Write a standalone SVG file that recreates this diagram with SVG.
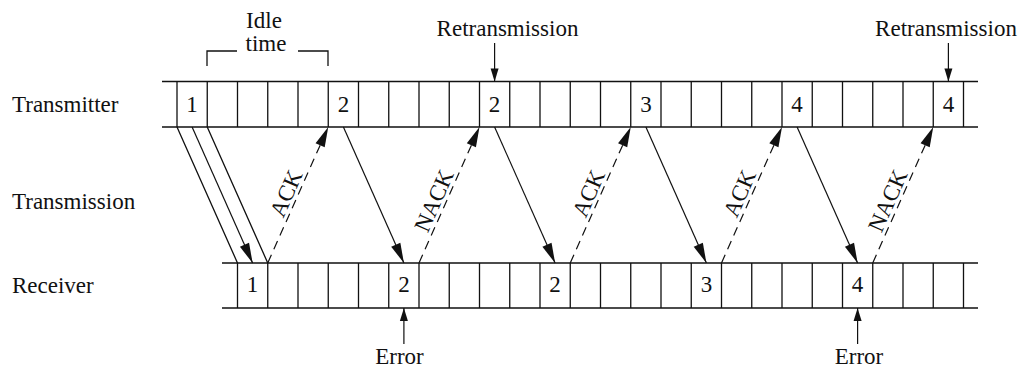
<svg xmlns="http://www.w3.org/2000/svg" width="1024" height="369" viewBox="0 0 1024 369">
<style>
text{font-family:"Liberation Serif","Times New Roman",serif;font-size:23px;fill:#111}
.c{text-anchor:middle}
.ln{stroke:#111;stroke-width:1.3;fill:none}
.sol{stroke:#111;stroke-width:1.2;fill:none;marker-end:url(#big)}
.dsh{stroke:#111;stroke-width:1.2;fill:none;stroke-dasharray:9 6;marker-end:url(#big)}
.pt{stroke:#111;stroke-width:1.2;fill:none;marker-end:url(#small)}
</style>
<defs>
<marker id="big" markerUnits="userSpaceOnUse" markerWidth="22" markerHeight="12" refX="20" refY="5" orient="auto" viewBox="0 0 22 10" overflow="visible">
<path d="M0,0 L20,5 L0,10 z" fill="#111"/>
</marker>
<marker id="small" markerUnits="userSpaceOnUse" markerWidth="14" markerHeight="10" refX="13" refY="4" orient="auto" viewBox="0 0 14 8" overflow="visible">
<path d="M0,0 L13,4 L0,8 z" fill="#111"/>
</marker>
</defs>
<rect width="1024" height="369" fill="#fff"/>

<g id="row-labels">
<text x="12" y="112">Transmitter</text>
<text x="12" y="209">Transmission</text>
<text x="12" y="293">Receiver</text>
</g>

<g id="transmitter">
<path class="ln" d="M162,81.5H978M162,127H978"/>
<path class="ln" d="M177,81.5V127M207.25,81.5V127M237.5,81.5V127M267.75,81.5V127M298,81.5V127M328.25,81.5V127M358.5,81.5V127M388.75,81.5V127M419,81.5V127M449.25,81.5V127M479.5,81.5V127M509.75,81.5V127M540,81.5V127M570.25,81.5V127M600.5,81.5V127M630.75,81.5V127M661,81.5V127M691.25,81.5V127M721.5,81.5V127M751.75,81.5V127M782,81.5V127M812.25,81.5V127M842.5,81.5V127M872.75,81.5V127M903,81.5V127M933.25,81.5V127M963.5,81.5V127"/>
<text class="c" x="192.1" y="112">1</text>
<text class="c" x="343.4" y="112">2</text>
<text class="c" x="494.6" y="112">2</text>
<text class="c" x="645.9" y="112">3</text>
<text class="c" x="797.1" y="112">4</text>
<text class="c" x="948.4" y="112">4</text>
</g>

<g id="receiver">
<path class="ln" d="M222,263H978M222,308H978"/>
<path class="ln" d="M237.5,263V308M267.75,263V308M298,263V308M328.25,263V308M358.5,263V308M388.75,263V308M419,263V308M449.25,263V308M479.5,263V308M509.75,263V308M540,263V308M570.25,263V308M600.5,263V308M630.75,263V308M661,263V308M691.25,263V308M721.5,263V308M751.75,263V308M782,263V308M812.25,263V308M842.5,263V308M872.75,263V308M903,263V308M933.25,263V308M963.5,263V308"/>
<text class="c" x="252.6" y="292">1</text>
<text class="c" x="403.9" y="292">2</text>
<text class="c" x="555.1" y="292">2</text>
<text class="c" x="706.4" y="292">3</text>
<text class="c" x="857.6" y="292">4</text>
</g>

<g id="idle-time">
<text class="c" x="264" y="28">Idle</text>
<text class="c" x="266" y="51">time</text>
<path class="ln" d="M207,66V51H237M298,51H328V66"/>
</g>

<g id="retransmission-1">
<text class="c" x="507.5" y="36">Retransmission</text>
<path class="pt" d="M494.6,43V81.5"/>
</g>
<g id="retransmission-2">
<text class="c" x="946" y="35.5">Retransmission</text>
<path class="pt" d="M948.4,43V81.5"/>
</g>
<g id="error-1">
<text class="c" x="399.5" y="363.5">Error</text>
<path class="pt" d="M403.9,344V308"/>
</g>
<g id="error-2">
<text class="c" x="859" y="363.5">Error</text>
<path class="pt" d="M857.6,344V308"/>
</g>

<g id="connectors">
<path class="ln" d="M177,127L237.5,263M207.25,127L267.75,263"/>
<path class="sol" d="M192.1,127L252.6,263"/>
<path class="dsh" d="M267.75,263L328.25,127"/>
<path class="sol" d="M343.4,127L403.9,263"/>
<path class="dsh" d="M419,263L479.5,127"/>
<path class="sol" d="M494.6,127L555.1,263"/>
<path class="dsh" d="M570.25,263L630.75,127"/>
<path class="sol" d="M645.9,127L706.4,263"/>
<path class="dsh" d="M721.5,263L782,127"/>
<path class="sol" d="M797.1,127L857.6,263"/>
<path class="dsh" d="M872.75,263L933.25,127"/>
<text class="c" transform="translate(285.7,193.3) rotate(-66)" y="8">ACK</text>
<text class="c" transform="translate(433.6,200.6) rotate(-66)" y="8">NACK</text>
<text class="c" transform="translate(588.2,193.3) rotate(-66)" y="8">ACK</text>
<text class="c" transform="translate(739.4,193.3) rotate(-66)" y="8">ACK</text>
<text class="c" transform="translate(887.4,200.6) rotate(-66)" y="8">NACK</text>
</g>
</svg>
